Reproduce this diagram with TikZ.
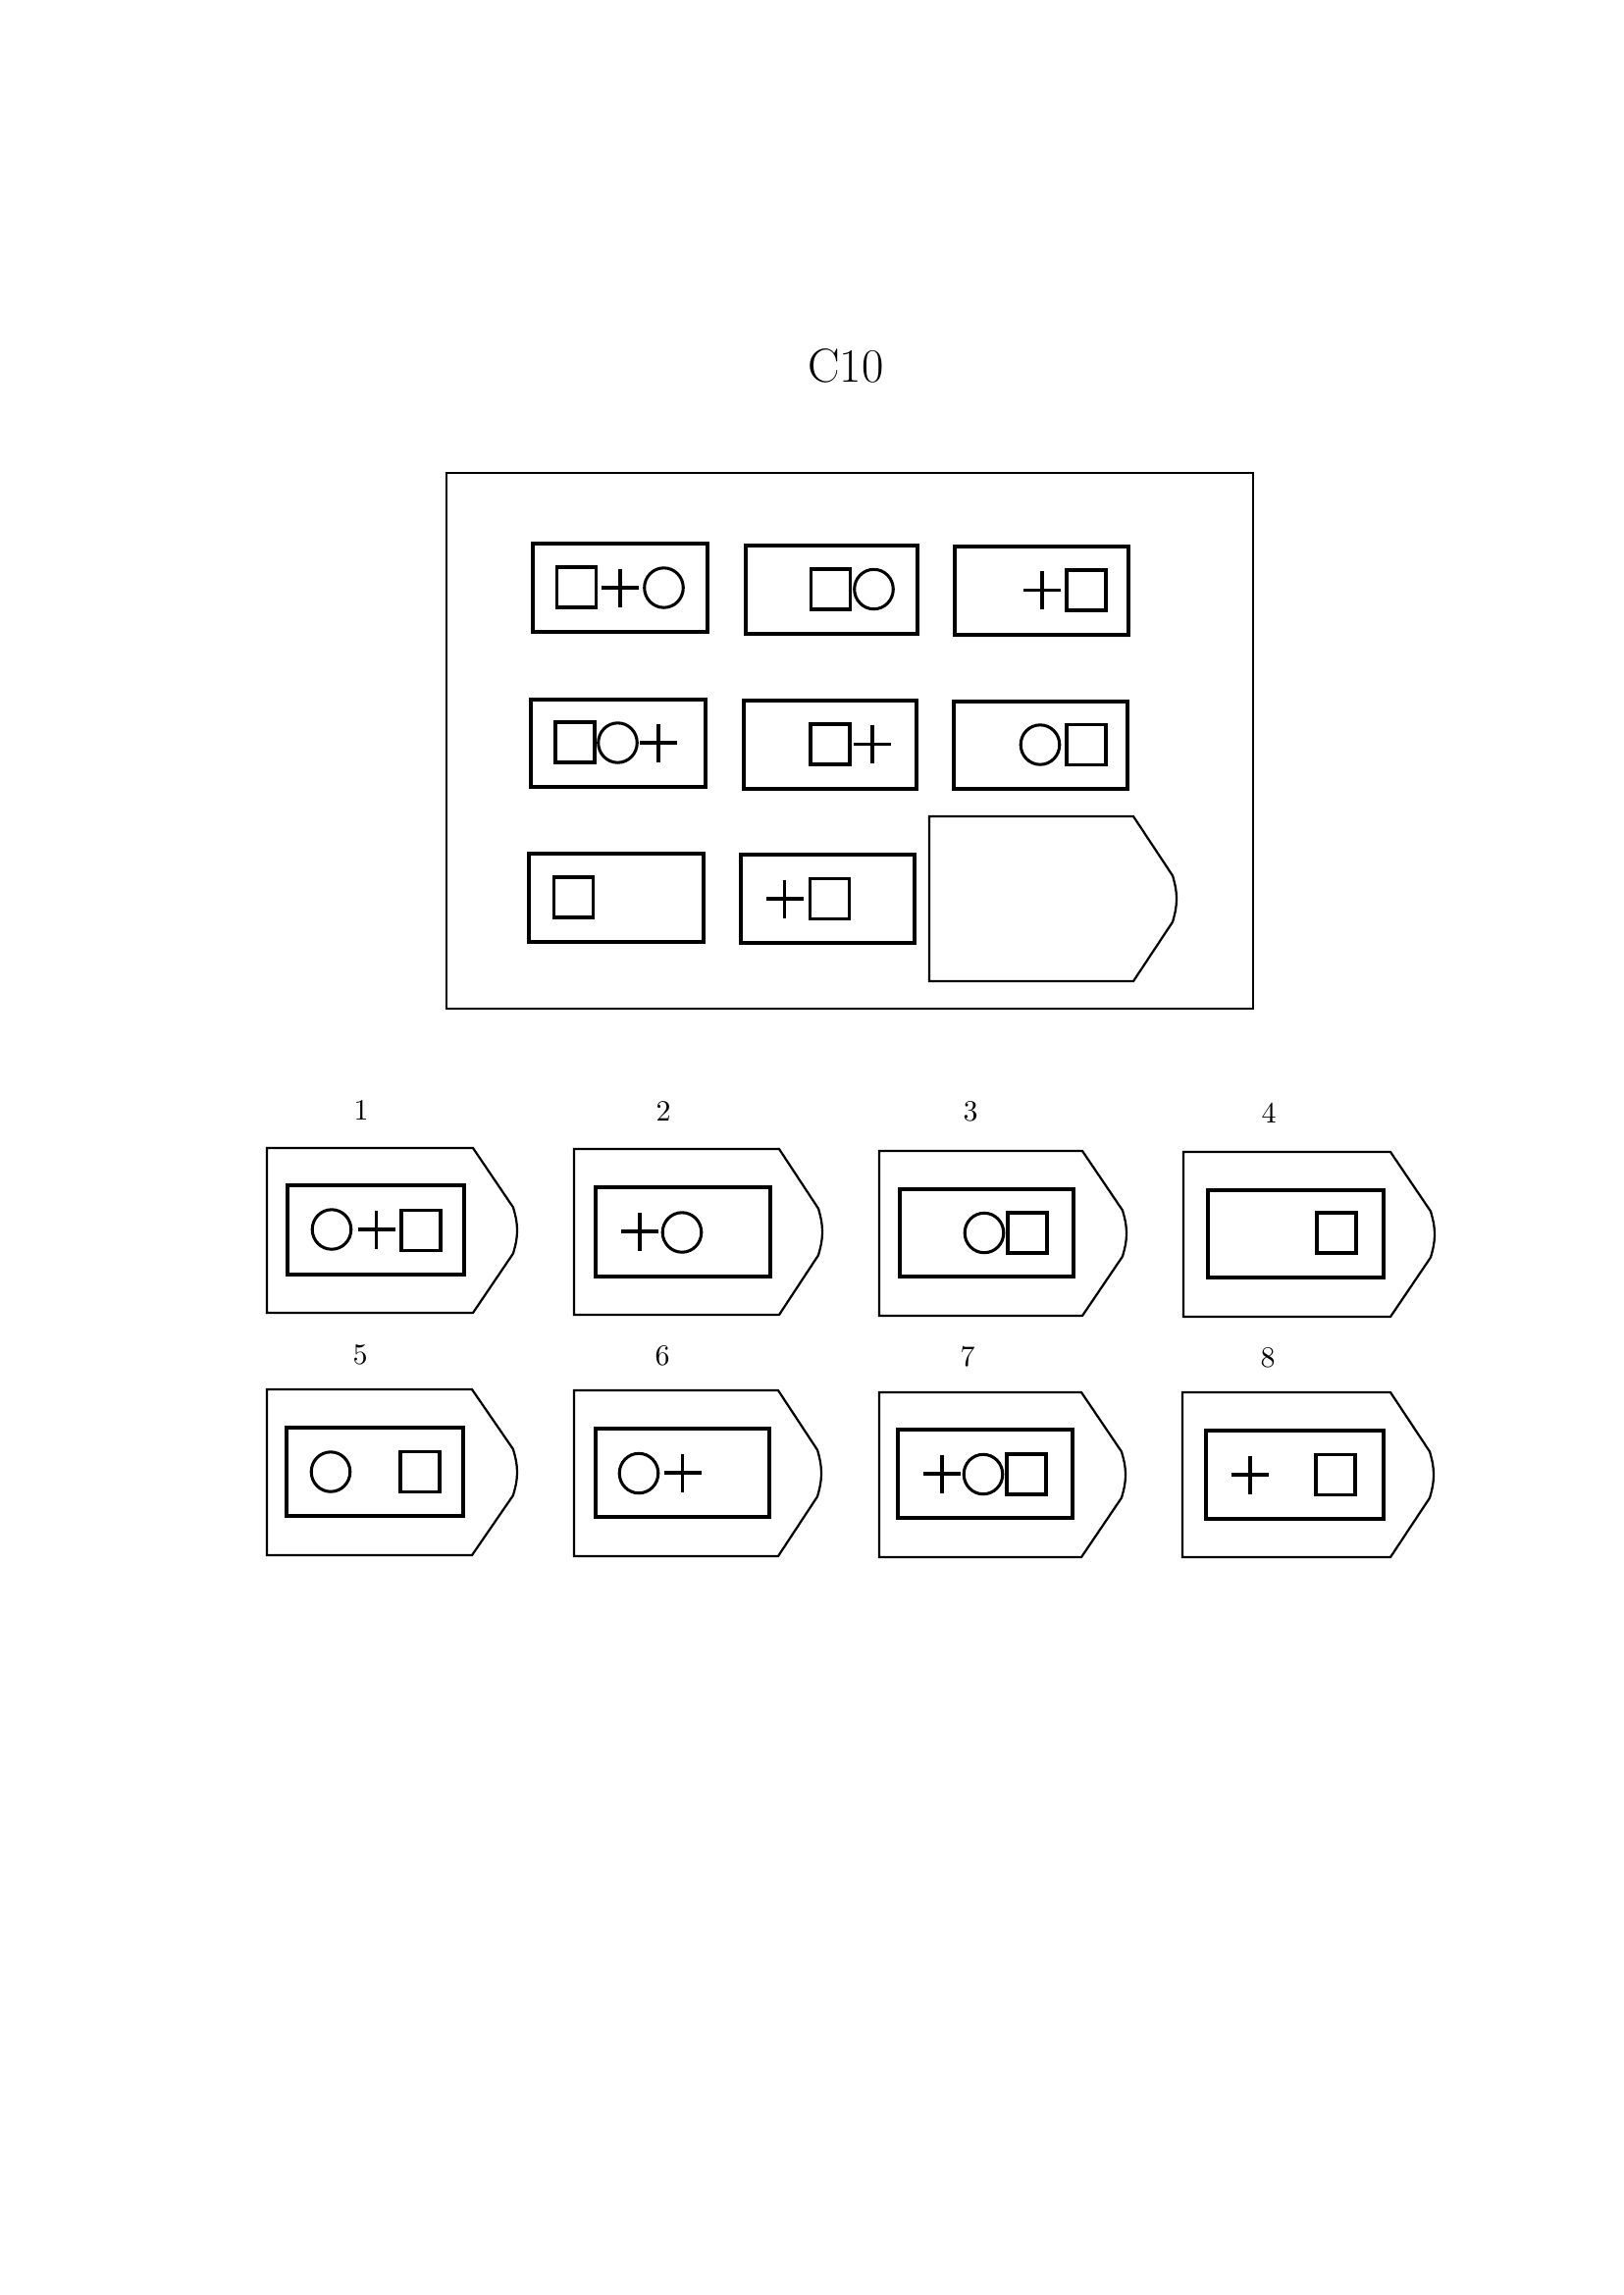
\documentclass[tikz,border=0pt]{standalone}
\usepackage{fontspec}
\begin{document}
\begin{tikzpicture}[x=0.36pt,y=-0.36pt,
  frame/.style={draw=black,line width=0.8pt},
  cell/.style={draw=black,line width=1.45pt},
  shp/.style={draw=black,line width=1.1pt},
  tagline/.style={draw=black,line width=0.8pt,line join=miter},
  lbl/.style={font=\fontsize{10.8}{12}\selectfont,inner sep=0pt}]
\useasboundingbox (0,0) rectangle (1654,2339);
\newcommand{\mysq}[2]{\draw[shp] (#1-20,#2-20.5) rectangle (#1+20,#2+20.5);}
\newcommand{\mycirc}[2]{\draw[shp] (#1,#2) ellipse [x radius=19.8, y radius=20.2];}
\newcommand{\myplus}[2]{\draw[shp] (#1-19,#2) -- (#1+19,#2) (#1,#2-19.5) -- (#1,#2+19.5);}
% tag shape: L T R B P(tip x)
\newcommand{\mytag}[5]{%
  \pgfmathsetmacro{\tM}{(#2+#4)/2}%
  \pgfmathsetmacro{\tH}{#4-#2}%
  \pgfmathsetmacro{\tD}{#5-#3}%
  \draw[tagline] (#1,#2) -- (#3,#2) -- (#3+0.91*\tD,#2+0.36*\tH)
    .. controls (#3+0.975*\tD,#2+0.42*\tH) and (#5,\tM-0.045*\tH) .. (#5,\tM)
    .. controls (#5,\tM+0.045*\tH) and (#3+0.975*\tD,#4-0.42*\tH) .. (#3+0.91*\tD,#4-0.36*\tH)
    -- (#3,#4) -- (#1,#4) -- cycle;}
% title
\node[inner sep=0pt,font=\fontsize{17.5}{20}\selectfont] (title) at (862,373) {C10};
% outer frame
\draw[frame] (455,482) rectangle (1277,1028);
% row 1
\draw[cell] (543,554) rectangle (721,644);
\mysq{587.5}{598.5}\myplus{632}{599}\mycirc{676.5}{599}
\draw[cell] (760,556) rectangle (935,646);
\mysq{846.5}{600.5}\mycirc{890.5}{600.5}
\draw[cell] (973,557) rectangle (1150,647);
\myplus{1062}{601.5}\mysq{1107}{601.5}
% row 2
\draw[cell] (541,713) rectangle (719,802);
\mysq{586}{756.5}\mycirc{629.5}{757}\myplus{671}{757}
\draw[cell] (758,714) rectangle (934,804);
\mysq{846}{758.5}\myplus{889}{758.5}
\draw[cell] (972,715) rectangle (1149,804);
\mycirc{1060}{759}\mysq{1107}{759}
% row 3
\draw[cell] (539,870) rectangle (717,960);
\mysq{584.5}{914.5}
\draw[cell] (755,871) rectangle (932,961);
\myplus{799.5}{916}\mysq{845.5}{916}
\mytag{947}{832}{1155}{1000}{1199}
% option labels
\node[lbl] (l1) at (368,1131) {1};
\node[lbl] (l2) at (676,1132) {2};
\node[lbl] (l3) at (989,1133) {3};
\node[lbl] (l4) at (1293,1134) {4};
\node[lbl] (l5) at (367,1381) {5};
\node[lbl] (l6) at (675,1382) {6};
\node[lbl] (l7) at (986,1383) {7};
\node[lbl] (l8) at (1292,1384) {8};
% option 1
\mytag{272}{1170}{482}{1338}{527}
\draw[cell] (293,1208) rectangle (473,1299);
\mycirc{338}{1253}\myplus{383.5}{1253}\mysq{429}{1254}
% option 2
\mytag{585}{1171}{794}{1340}{838}
\draw[cell] (607,1210) rectangle (785,1301);
\myplus{652}{1255}\mycirc{695}{1256}
% option 3
\mytag{896}{1173}{1103}{1341}{1148}
\draw[cell] (917,1212) rectangle (1094,1301);
\mycirc{1003}{1256.5}\mysq{1047}{1256.5}
% option 4
\mytag{1206}{1174}{1417}{1342}{1462}
\draw[cell] (1231,1213) rectangle (1410,1302);
\mysq{1362}{1256.5}
% option 5
\mytag{272}{1416}{481}{1585}{527}
\draw[cell] (292,1455) rectangle (472,1545);
\mycirc{337}{1500}\mysq{428}{1500}
% option 6
\mytag{585}{1417}{793}{1586}{837}
\draw[cell] (607,1456) rectangle (784,1546);
\mycirc{651}{1501.5}\myplus{695.5}{1501}
% option 7
\mytag{896}{1419}{1102}{1587}{1147}
\draw[cell] (915,1457) rectangle (1093,1547);
\myplus{960}{1502}\mycirc{1002}{1502.5}\mysq{1046}{1502.5}
% option 8
\mytag{1205}{1419}{1417}{1587}{1461}
\draw[cell] (1229,1458) rectangle (1410,1548);
\myplus{1274}{1503}\mysq{1361}{1503}
\end{tikzpicture}
\end{document}
